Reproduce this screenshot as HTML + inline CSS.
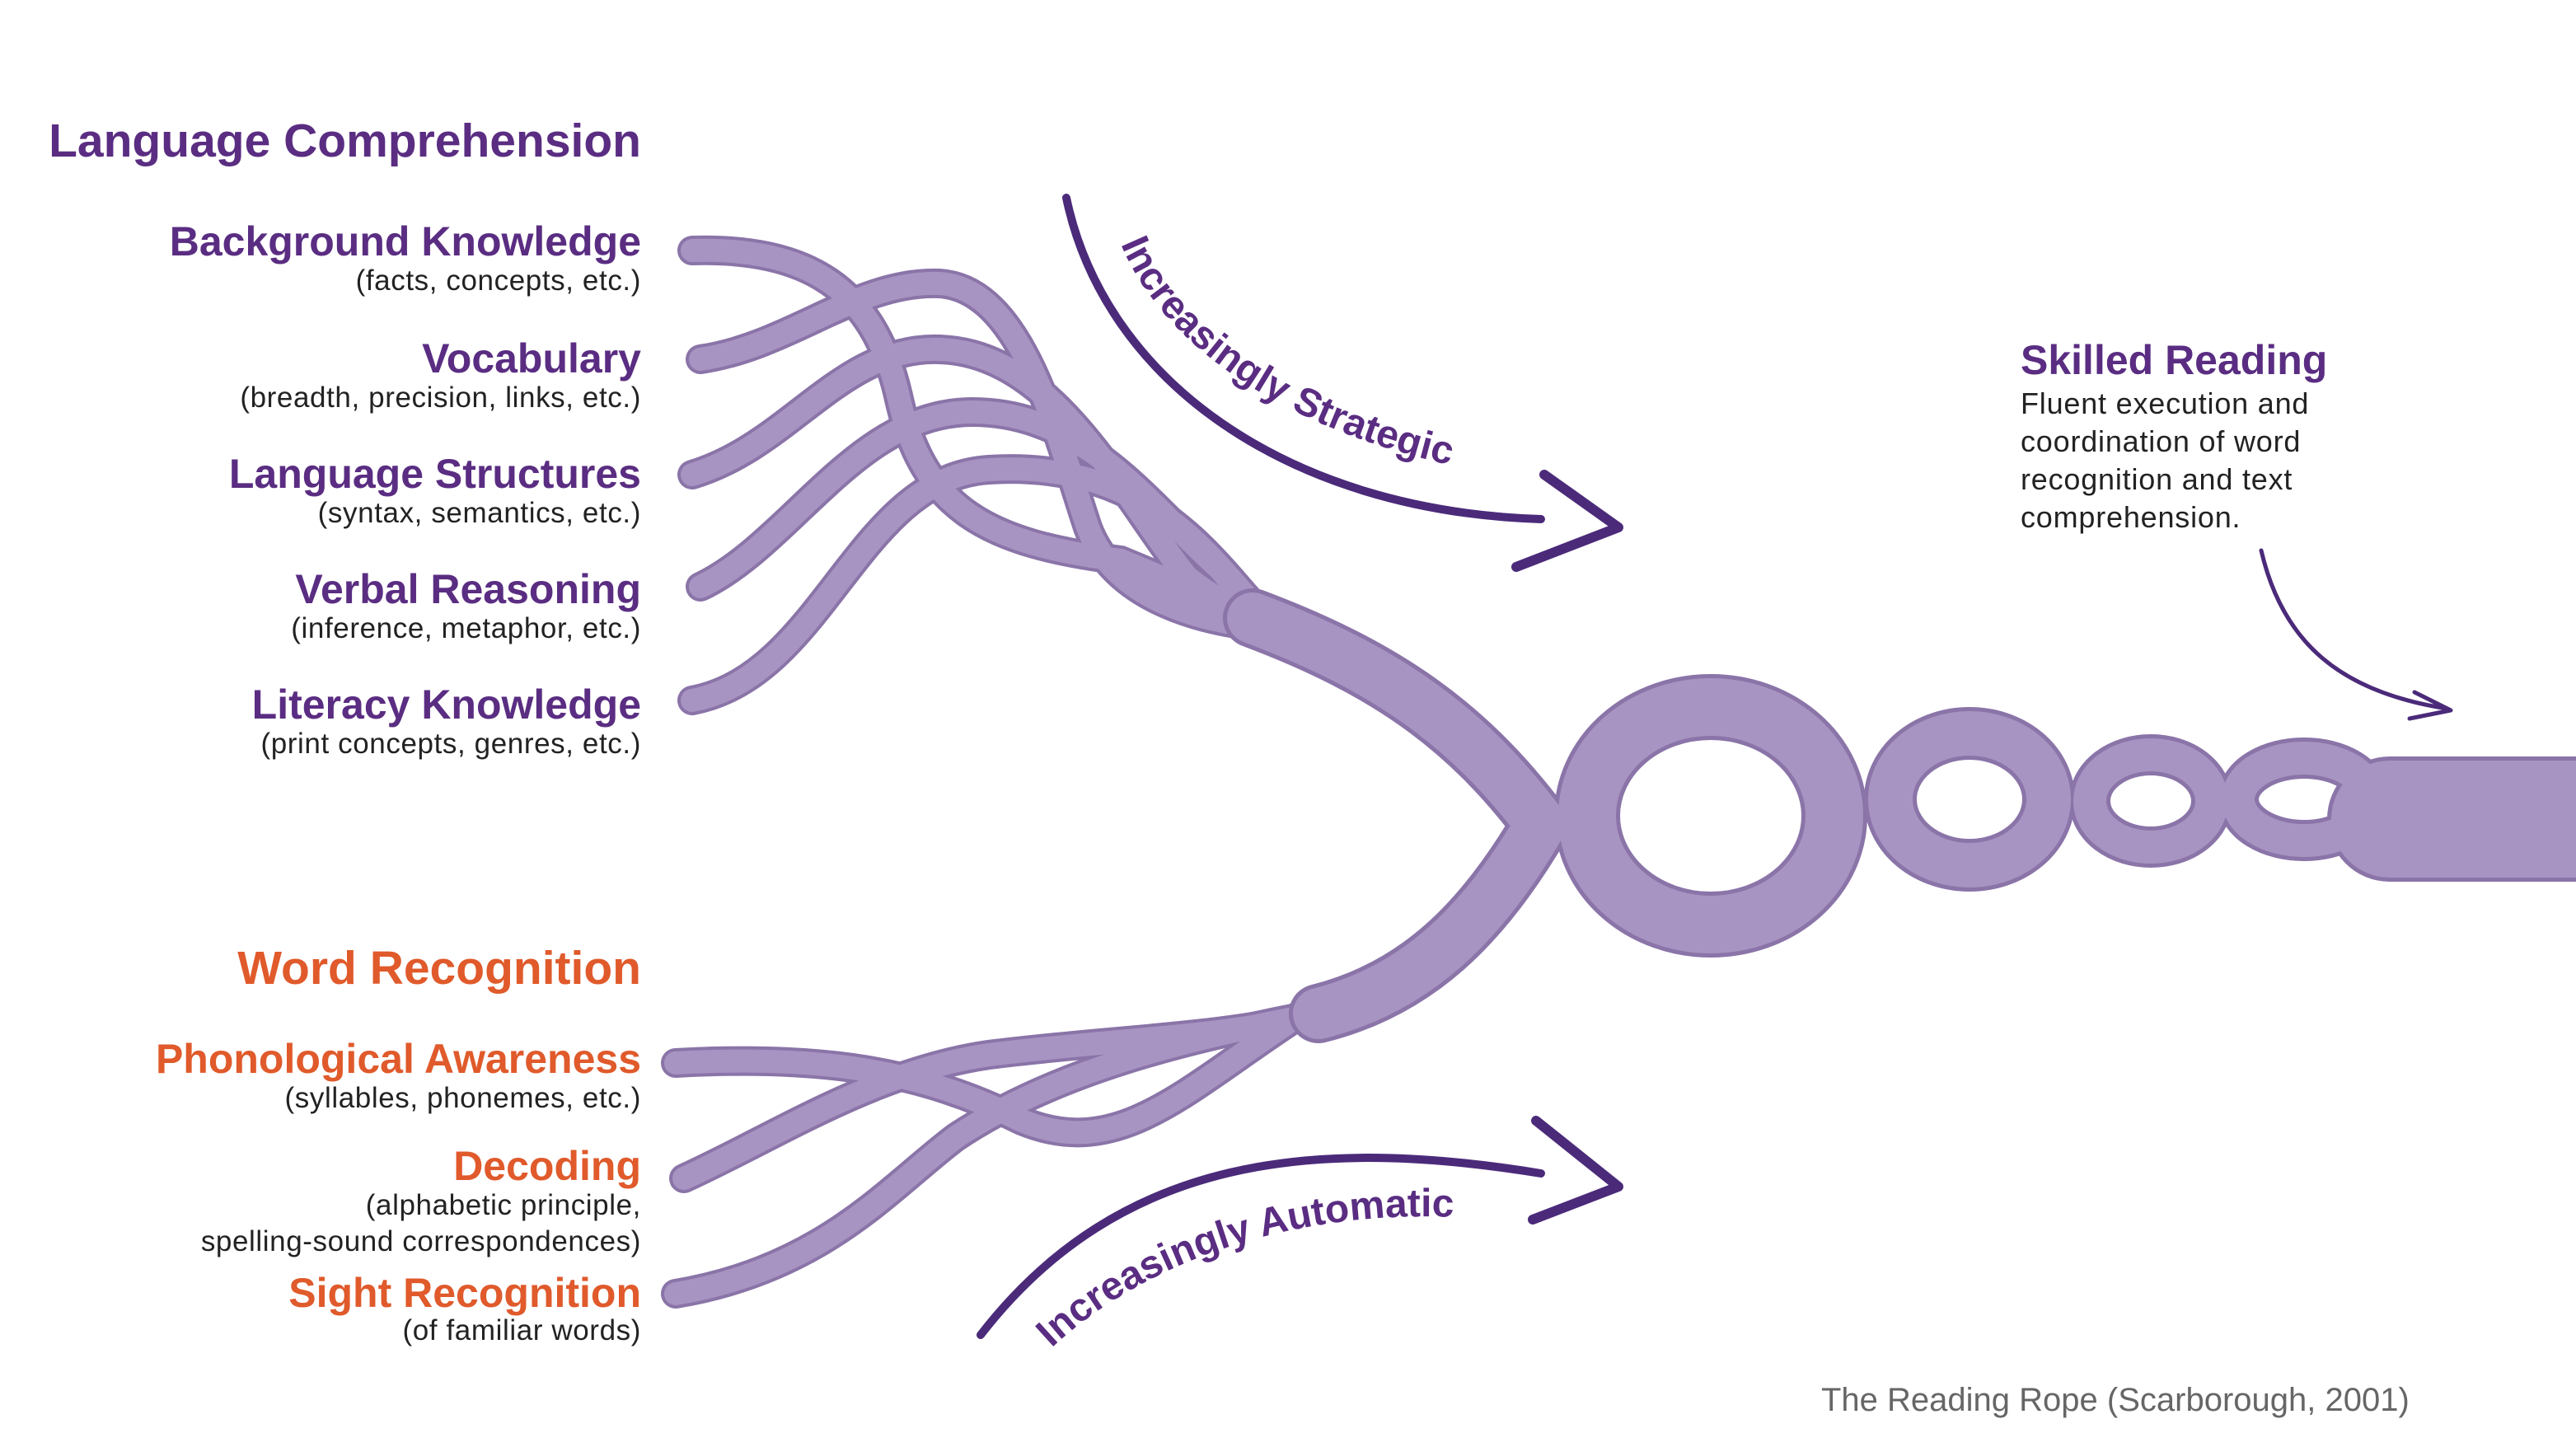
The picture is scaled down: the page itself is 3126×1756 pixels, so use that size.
<!DOCTYPE html>
<html><head><meta charset="utf-8"><style>
html,body{margin:0;padding:0;background:#fff;}
svg{display:block;}
.h{font-family:"Liberation Sans",sans-serif;font-weight:bold;fill:#5a2d82;}
.o{font-family:"Liberation Sans",sans-serif;font-weight:bold;fill:#e05a2b;}
.s{font-family:"Liberation Sans",sans-serif;fill:#222;font-size:17.5px;letter-spacing:0.3px;}
.k{font-family:"Liberation Sans",sans-serif;fill:#222;font-size:18px;letter-spacing:0.4px;}
</style></head><body>
<svg width="3126" height="1756" viewBox="0 0 1563 878" xmlns="http://www.w3.org/2000/svg">
<rect width="1563" height="878" fill="#fff"/>
<g text-anchor="end">
<text class="h" x="389" y="95" font-size="28.5">Language Comprehension</text>
<text class="h" x="389" y="155" font-size="25">Background Knowledge</text>
<text class="s" x="389" y="176">(facts, concepts, etc.)</text>
<text class="h" x="389" y="226" font-size="25">Vocabulary</text>
<text class="s" x="389" y="247">(breadth, precision, links, etc.)</text>
<text class="h" x="389" y="296" font-size="25">Language Structures</text>
<text class="s" x="389" y="317">(syntax, semantics, etc.)</text>
<text class="h" x="389" y="366" font-size="25">Verbal Reasoning</text>
<text class="s" x="389" y="387">(inference, metaphor, etc.)</text>
<text class="h" x="389" y="436" font-size="25">Literacy Knowledge</text>
<text class="s" x="389" y="457">(print concepts, genres, etc.)</text>
<text class="o" x="389" y="597" font-size="28.5">Word Recognition</text>
<text class="o" x="389" y="651" font-size="25">Phonological Awareness</text>
<text class="s" x="389" y="672">(syllables, phonemes, etc.)</text>
<text class="o" x="389" y="716" font-size="25">Decoding</text>
<text class="s" x="389" y="737">(alphabetic principle,</text>
<text class="s" x="389" y="759">spelling-sound correspondences)</text>
<text class="o" x="389" y="793" font-size="25">Sight Recognition</text>
<text class="s" x="389" y="813">(of familiar words)</text>
</g>
<text class="h" x="1226" y="227" font-size="25">Skilled Reading</text>
<text class="k" x="1226" y="251">Fluent execution and</text>
<text class="k" x="1226" y="274">coordination of word</text>
<text class="k" x="1226" y="297">recognition and text</text>
<text class="k" x="1226" y="320">comprehension.</text>
<text x="1105" y="856" font-family="Liberation Sans,sans-serif" font-size="20" fill="#666">The Reading Rope (Scarborough, 2001)</text>

<g fill="none" stroke-linecap="round">
<g stroke="#8a74a8" stroke-width="18">
<path d="M420,152 C490,150 530,175 545,240 C560,310 600,330 680,340 L740,365"/>
<path d="M425,218 C480,210 520,170 570,172 C620,175 640,260 660,320 C675,360 720,375 760,380"/>
<path d="M420,288 C480,270 510,210 570,212 C640,214 680,300 720,350 C735,362 750,370 765,378"/>
<path d="M425,356 C480,330 520,250 590,250 C660,250 700,310 740,345 L765,375"/>
<path d="M420,425 C500,410 520,290 600,285 C680,280 720,320 750,355 L770,378"/>
<path d="M410,645 C500,640 560,650 620,680 C680,705 720,660 790,615"/>
<path d="M415,715 C470,690 530,650 600,640 C680,630 740,630 800,615"/>
<path d="M410,785 C500,770 540,720 580,690 C640,650 720,630 800,615"/>
</g>
<g stroke="#a894c2" stroke-width="14">
<path d="M420,152 C490,150 530,175 545,240 C560,310 600,330 680,340 L740,365"/>
<path d="M425,218 C480,210 520,170 570,172 C620,175 640,260 660,320 C675,360 720,375 760,380"/>
<path d="M420,288 C480,270 510,210 570,212 C640,214 680,300 720,350 C735,362 750,370 765,378"/>
<path d="M425,356 C480,330 520,250 590,250 C660,250 700,310 740,345 L765,375"/>
<path d="M420,425 C500,410 520,290 600,285 C680,280 720,320 750,355 L770,378"/>
<path d="M410,645 C500,640 560,650 620,680 C680,705 720,660 790,615"/>
<path d="M415,715 C470,690 530,650 600,640 C680,630 740,630 800,615"/>
<path d="M410,785 C500,770 540,720 580,690 C640,650 720,630 800,615"/>
</g>
<g stroke="#8a74a8" stroke-width="36">
<path d="M760,375 C840,405 890,440 935,500 C900,560 860,600 800,615"/>
<ellipse cx="1038" cy="495" rx="75" ry="66" stroke-width="40"/>
<ellipse cx="1195" cy="485" rx="48" ry="40" stroke-width="32"/>
<ellipse cx="1305" cy="486" rx="37" ry="28" stroke-width="25"/>
<ellipse cx="1398" cy="485" rx="40" ry="25" stroke-width="25"/>
<path d="M1450,497 L1580,497" stroke-width="76"/>
</g>
<g stroke="#a894c2" stroke-width="31">
<path d="M760,375 C840,405 890,440 935,500 C900,560 860,600 800,615"/>
<ellipse cx="1038" cy="495" rx="75" ry="66" stroke-width="35"/>
<ellipse cx="1195" cy="485" rx="48" ry="40" stroke-width="27"/>
<ellipse cx="1305" cy="486" rx="37" ry="28" stroke-width="20"/>
<ellipse cx="1398" cy="485" rx="40" ry="25" stroke-width="20"/>
<path d="M1450,497 L1580,497" stroke-width="71"/>
</g>
<g stroke="#4b2a7a" stroke-linejoin="round">
<path d="M647,120 C670,230 780,310 935,315" stroke-width="5"/>
<path d="M937,288 L982,320 L920,344" stroke-width="6"/>
<path d="M595,810 C680,700 800,690 935,712" stroke-width="5"/>
<path d="M932,680 L982,720 L930,740" stroke-width="6"/>
<path d="M1372,334 C1385,390 1420,420 1485,430" stroke-width="2.5"/>
<path d="M1465,420 L1487,431 L1462,436" stroke-width="2.5"/>
</g>
</g>
<defs>
<path id="ts" d="M680,148 C710,220 800,270 910,288"/>
<path id="ta" d="M638,818 C700,760 800,730 905,740"/>
</defs>
<text class="h" font-size="24"><textPath href="#ts">Increasingly Strategic</textPath></text>
<text class="h" font-size="24"><textPath href="#ta">Increasingly Automatic</textPath></text>
</svg>
</body></html>
